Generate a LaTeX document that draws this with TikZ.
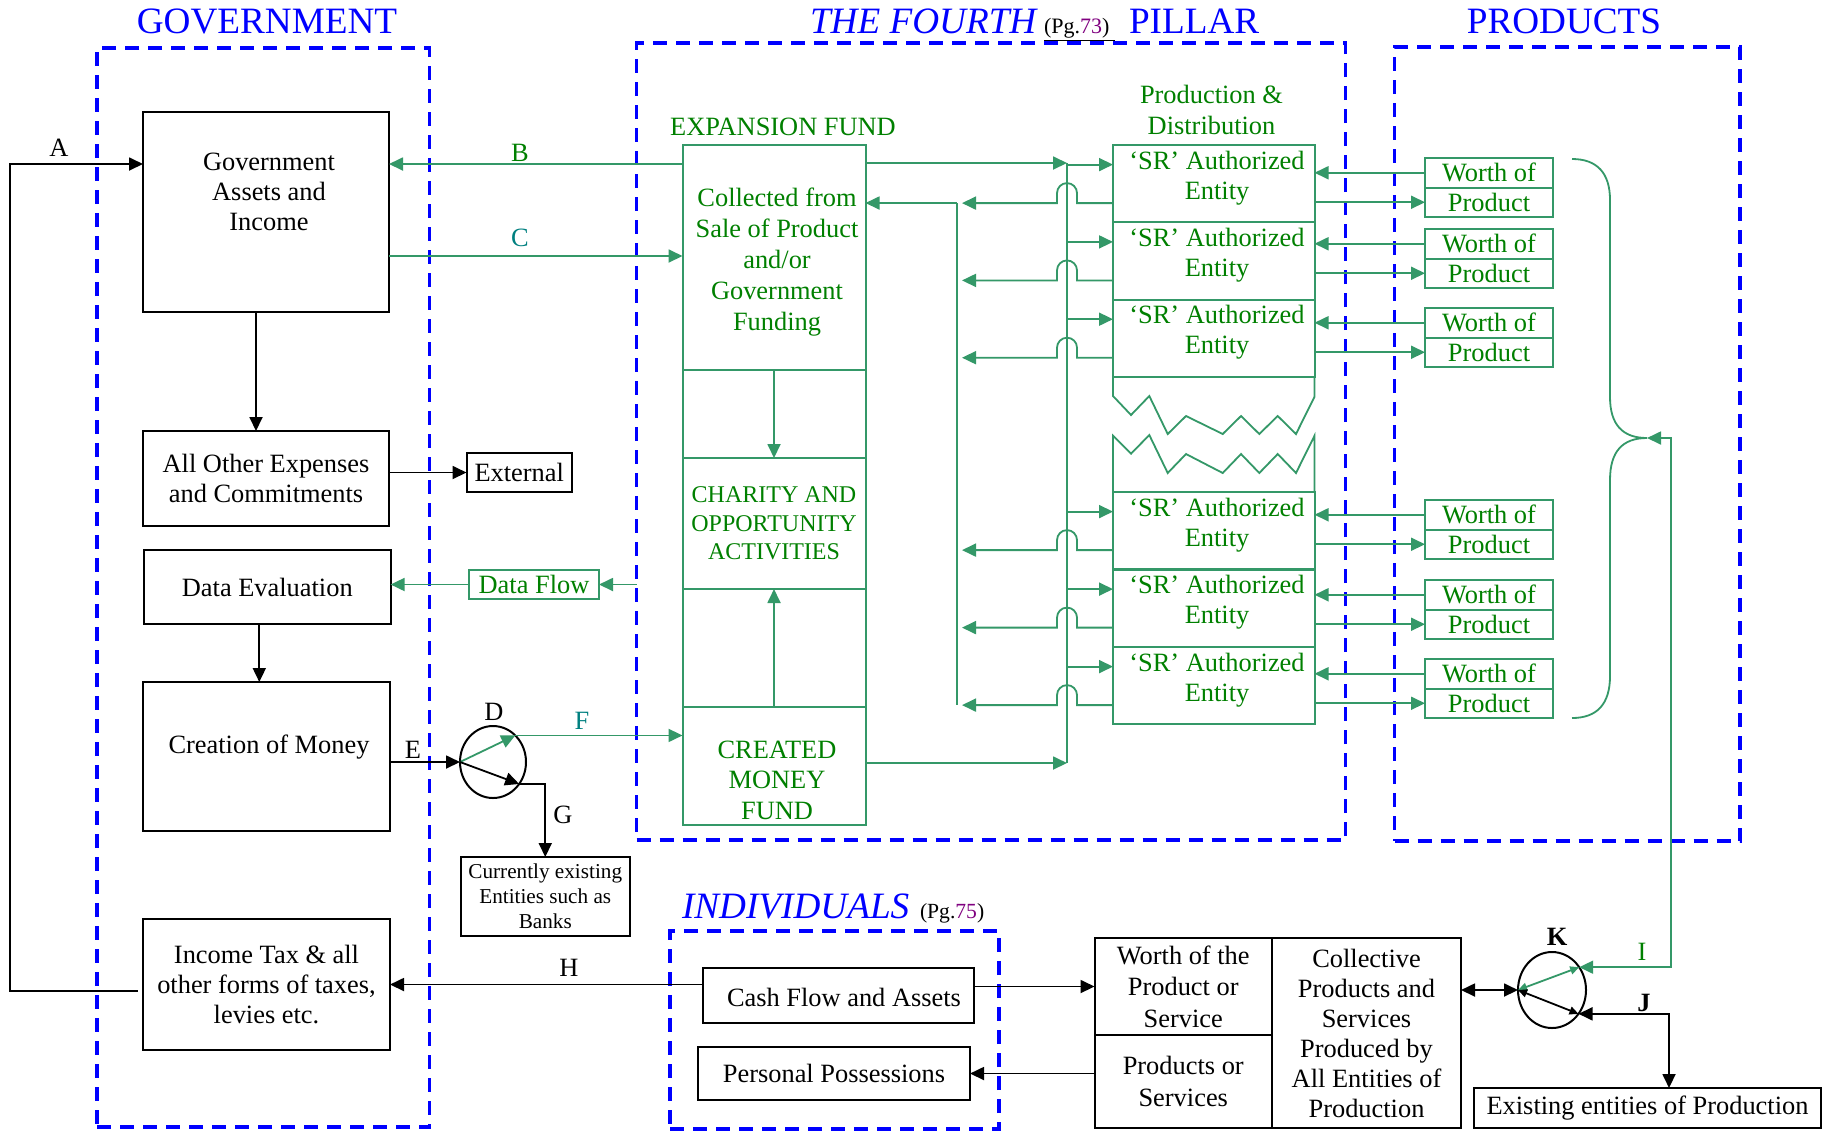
\documentclass[tikz,border=0pt]{standalone}
\usepackage{fontspec}
\setmainfont{Liberation Serif}
\usetikzlibrary{arrows.meta,shapes.geometric,calc}
\definecolor{lgreen}{RGB}{52,152,104}
\definecolor{tgreen}{RGB}{0,128,0}
\definecolor{tteal}{RGB}{0,128,128}
\definecolor{tpurple}{RGB}{128,0,128}
\definecolor{fblue}{RGB}{0,0,255}
\tikzset{
  every node/.style={inner sep=0pt,outer sep=0pt},
  corners/.style n args={4}{minimum width={((#3)-(#1))*0.5pt},minimum height={((#4)-(#2))*0.5pt},at={({((#1)+(#3))/2},{((#2)+(#4))/2})}},
  txt/.style={align=center,font=\fontsize{13.2}{15}\selectfont},
  gtxt/.style={txt,text=tgreen},
  ttl/.style={font=\fontsize{18.6}{22}\selectfont,text=fblue,anchor=base},
  zone/.style={draw=fblue,line width=1.6pt,dash pattern=on 7pt off 4.5pt},
  bbox/.style={draw,line width=1pt,txt},
  gbox/.style={draw=lgreen,line width=1pt,gtxt},
  lbl/.style={font=\fontsize{13.2}{15}\selectfont},
  arr/.style={line width=0.9pt,-{Triangle[length=7pt,width=6.5pt]}},
  dual/.style={line width=0.9pt,{Triangle[length=7pt,width=6.5pt]}-{Triangle[length=7pt,width=6.5pt]}},
  small dual/.style={line width=0.9pt,{Triangle[length=4.5pt,width=4pt]}-{Triangle[length=4.5pt,width=4pt]}},
  gline/.style={draw=lgreen,line width=0.9pt},
  garr/.style={arr,lgreen},
}
\begin{document}
\begin{tikzpicture}[x=0.5pt,y=-0.5pt]
\fill[white] (0,0) rectangle (1829,1131);
\useasboundingbox (0,0) rectangle (1829,1131);

% dashed zones
\node[zone,corners={97}{48}{429.5}{1127}] (fGov) {};
\node[zone,corners={636.5}{43}{1345.5}{840}] (fPillar) {};
\node[zone,corners={1394.5}{47}{1740}{841}] (fProd) {};
\node[zone,corners={670}{931}{999}{1129}] (fIndiv) {};

% titles
\node[ttl] (tGov) at (267,33) {GOVERNMENT};
\node[ttl,anchor=base west,font=\fontsize{18.6}{22}\selectfont\itshape] (tFourth) at (810,33) {THE FOURTH};
\node[anchor=base west,font=\fontsize{11}{13}\selectfont] (tPg73) at (1044,33) {\underline{(Pg.\textcolor{tpurple}{73})\ }};
\node[ttl,anchor=base west] (tPillar) at (1129,33) {PILLAR};
\node[ttl] (tProd) at (1564,33) {PRODUCTS};
\node[ttl,anchor=base west,font=\fontsize{18.6}{22}\selectfont\itshape] (tIndiv) at (682,918) {INDIVIDUALS};
\node[anchor=base west,font=\fontsize{10.8}{13}\selectfont] (tPg75) at (920,918) {(Pg.\textcolor{tpurple}{75})};

% government column
\node[bbox,corners={143}{112}{389}{312}] (gov) {};
\node[txt] (govText) at (269,192) {Government\\Assets and\\Income};
\node[bbox,corners={143}{431}{389}{526}] (expn) {All Other Expenses\\and Commitments};
\node[bbox,corners={466.5}{453}{572}{492}] (ext) {External};
\node[bbox,corners={144}{550}{390.6}{624}] (deval) {Data Evaluation};
\node[bbox,corners={143}{682}{390}{831}] (money) {};
\node[txt] (moneyText) at (269,747) {Creation of Money};
\node[bbox,corners={143}{919}{390}{1050}] (tax) {Income Tax \& all\\other forms of taxes,\\levies etc.};
\node[bbox,corners={461}{857}{629.5}{936},font=\fontsize{10.6}{12.5}\selectfont] (banks) {Currently existing\\Entities such as\\Banks};
\node[gbox,corners={469}{570}{599}{599}] (dflow) {Data Flow};
\node[ellipse,draw,line width=1pt,minimum width=33pt,minimum height=36pt] (nodeD) at (493,762) {};

% expansion fund column
\node[gtxt] (expTitle) at (783,127) {EXPANSION FUND};
\node[gbox,corners={682.5}{145}{865.5}{825}] (fundCol) {};
\node[gbox,corners={682.5}{145}{865.5}{370}] (fund) {};
\node[gtxt,font=\fontsize{13.2}{15.4}\selectfont] (fundText) at (777,262) {Collected from\\Sale of Product\\and/or\\Government\\Funding};
\node[gbox,corners={682.5}{458}{865.5}{589},font=\fontsize{12}{14.25}\selectfont] (charity) {CHARITY AND\\OPPORTUNITY\\ACTIVITIES};
\node[gbox,corners={682.5}{707}{865.5}{825}] (created) {};
\node[gtxt,font=\fontsize{13.2}{15.25}\selectfont] (createdText) at (777,780) {CREATED\\MONEY\\FUND};
\node[gtxt,font=\fontsize{13.2}{15.5}\selectfont] (prodDist) at (1211.5,109.5) {Production \&\\Distribution};

% production entities
\foreach \i/\t in {1/145,2/222.3,3/299.6,4/492,5/569.5,6/647}{
  \node[gbox,corners={1113}{\t}{1314.5}{\t+77.2}] (sr\i) {};
  \node[gtxt] (srText\i) at (1217,\t+33) {‘SR’ Authorized\\Entity};
}
\draw[gline] (sr3.south west) -- (1113,396) -- (1131,415) -- (1149.3,396) -- (1167.7,434) -- (1186,416) -- (1222.7,434) -- (1241,416) -- (1259.3,434) -- (1277.7,416) -- (1296,434) -- (1314.5,396.7) -- (sr3.south east);
\draw[gline] (sr4.north west) -- (1113,435.7) -- (1131,453.7) -- (1149.3,435) -- (1167.7,473) -- (1186,454) -- (1222.7,473) -- (1241,454) -- (1259.3,473) -- (1277.7,454) -- (1296,473) -- (1314.5,435.7) -- (sr4.north east);

% distribution bus and collector
\coordinate (busTop) at (1067,163);
\coordinate (busBot) at (1067,763);
\coordinate (collTop) at (957,203);
\coordinate (collBot) at (957,705);
\coordinate (collTip) at (962,0);
\draw[gline] (busTop) -- (busBot);
\draw[gline] (collTop) -- (collBot);
\draw[garr] (busTop -| fund.east) -- (busTop);
\draw[garr] (busBot -| created.east) -- (busBot);
\draw[garr] (collTop) -- (collTop -| fund.east);
\foreach \i in {1,...,6}{
  \draw[garr] ([yshift=9.5pt]sr\i.west -| busTop) -- ([yshift=9.5pt]sr\i.west);
  \draw[garr] ([yshift=-9.75pt]sr\i.west) -- ++(-36,0) -- ++(0,-10) arc[start angle=0,end angle=180,radius=5pt] -- ++(0,10) -- ([yshift=-9.75pt]sr\i.west -| collTip);
}

% product worth boxes
\foreach \i/\t in {1/158,2/229,3/308,4/500,5/580,6/659}{
  \node[gbox,corners={1425}{\t}{1553}{\t+29.5}] (wa\i) {Worth of};
  \node[gbox,corners={1425}{\t+29.5}{1553}{\t+59}] (wb\i) {Product};
  \draw[garr] (wa\i.west) -- (wa\i.west -| sr\i.east);
  \draw[garr] (wb\i.west -| sr\i.east) -- (wb\i.west);
}
\coordinate (braceTip) at (1647,438);
\draw[gline] (1572,159) .. controls (1597,159) and (1610,173) .. (1610,200) -- (1610,397) .. controls (1610,424) and (1622,438) .. (braceTip) .. controls (1622,438) and (1610,452) .. (1610,480) -- (1610,676) .. controls (1610,704) and (1597,718) .. (1572,718);

% individuals and production
\node[bbox,corners={702.5}{968}{974}{1023}] (cash) {};
\node[txt] (cashText) at (844,997) {Cash Flow and Assets};
\node[bbox,corners={698}{1047}{970}{1100}] (poss) {Personal Possessions};
\node[bbox,corners={1094.5}{938}{1272}{1035},font=\fontsize{13.2}{15.75}\selectfont] (worthPS) {Worth of the\\Product or\\Service};
\node[bbox,corners={1094.5}{1035}{1272}{1128},font=\fontsize{13.2}{16}\selectfont] (prodSvc) {Products or\\Services};
\node[bbox,corners={1272}{938}{1461}{1128}] (coll) {Collective\\Products and\\Services\\Produced by\\All Entities of\\Production};
\node[bbox,corners={1474}{1088}{1821}{1128}] (exist) {Existing entities of Production};
\node[ellipse,draw,line width=1pt,minimum width=34pt,minimum height=38pt] (K) at (1552,990) {};
\coordinate (iTop) at (1671,438);

% government connectors
\coordinate (aCorner) at (10,164);
\draw[arr] ([xshift=-2.75pt,yshift=-3.25pt]tax.west) -| (aCorner) -- (aCorner -| gov.west);
\draw[arr] ([xshift=-5pt]gov.south) -- ([xshift=-5pt]expn.north);
\draw[arr] (expn.east |- ext.west) -- (ext.west);
\draw[arr] ([xshift=-4pt]deval.south) -- ([xshift=-4pt]deval.south |- money.north);
\draw[arr] (money.east |- nodeD.west) -- (nodeD.west);
\draw[garr] (nodeD.west) -- (nodeD.50);
\draw[garr] (nodeD.50) -- (nodeD.50 -| created.west);
\draw[arr] (nodeD.west) -- (nodeD.-40);
\draw[arr] (nodeD.-40) -| (banks.north);
\draw[garr] ([yshift=24pt]gov.east -| fund.west) -- ([yshift=24pt]gov.east);
\draw[garr] ([yshift=-22pt]gov.east) -- ([yshift=-22pt]gov.east -| fund.west);
\draw[garr] (fPillar.west |- dflow.east) -- (dflow.east);
\draw[garr] (dflow.west) -- (dflow.west -| deval.east);
\draw[garr] (fund.south) -- (charity.north);
\draw[garr] (created.north) -- (charity.south);

% bottom connectors
\draw[arr] (tax.east -| cash.west) -- (tax.east);
\draw[arr] (worthPS.west -| cash.east) -- (worthPS.west);
\draw[arr] (prodSvc.west |- poss.east) -- (poss.east);
\draw[dual] (K.west -| coll.east) -- (K.west);
\draw[small dual,lgreen] (K.west) -- (K.40);
\draw[small dual] (K.west) -- (K.-42);
\draw[dual] (K.-42) -| ([xshift=10.75pt]exist.north);
\draw[dual,lgreen] (braceTip) -- (iTop) -- (iTop |- K.40) -- (K.40);

% letter labels
\node[lbl] (labA) at (59,148) {A};
\node[lbl,text=tgreen] (labB) at (520,153) {B};
\node[lbl,text=tteal] (labC) at (520,238) {C};
\node[lbl] (labD) at (494,712) {D};
\node[lbl] (labE) at (413,750) {E};
\node[lbl,text=tteal] (labF) at (582,721) {F};
\node[lbl] (labG) at (563,815) {G};
\node[lbl] (labH) at (569,968) {H};
\node[lbl,text=tgreen] (labI) at (1642,952) {I};
\node[lbl,font=\fontsize{13.2}{15}\selectfont\bfseries] (labJ) at (1644,1003) {J};
\node[lbl,font=\fontsize{13.2}{15}\selectfont\bfseries] (labK) at (1557,937) {K};
\end{tikzpicture}
\end{document}
